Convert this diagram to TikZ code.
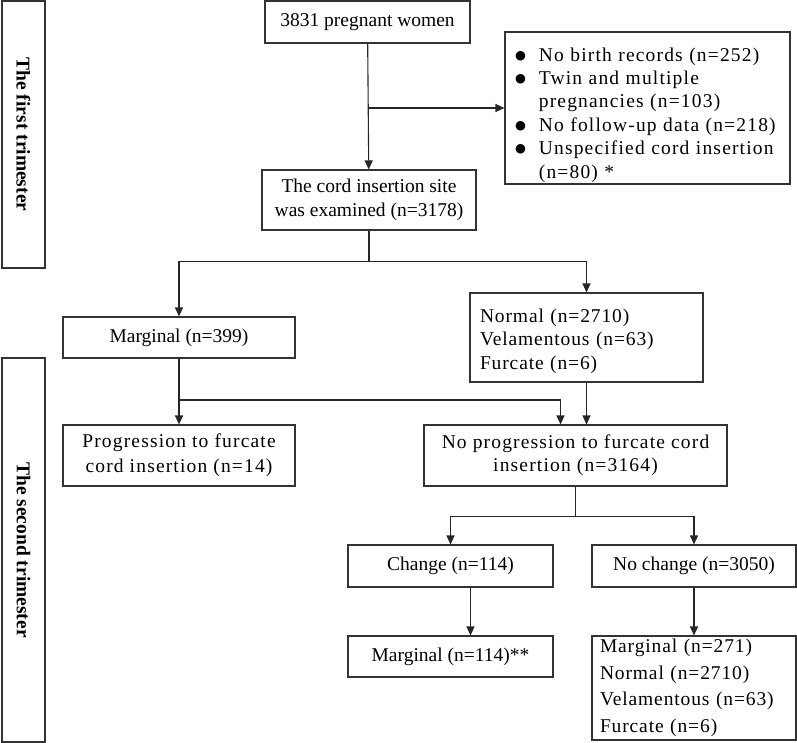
\documentclass[tikz,border=0pt]{standalone}
\usepackage{fontspec}
\setmainfont{Liberation Serif}
\newfontfamily\widefont[LetterSpace=6]{Liberation Serif}
\newfontfamily\semifont[LetterSpace=4.5]{Liberation Serif}
\newfontfamily\dotfont{DejaVu Sans}
\usetikzlibrary{arrows.meta}

\newcommand\dotmark{\raisebox{1.8pt}{\dotfont\fontsize{12.5}{14}\selectfont ●}}
\newcommand\lowered[2]{\raisebox{-#1}[\height][\depth]{#2}}

\tikzset{
    box/.style={draw=black!80, line width=1.1pt, inner sep=0pt, align=center,
        font=\fontsize{19.5}{23.4}\selectfont},
    side/.style={box, rotate=-90, font=\fontsize{19.5}{23.4}\selectfont\bfseries},
    wire/.style={draw=black!85, line width=1.1pt},
    link/.style={wire, -{Triangle[length=9pt,width=8pt]}},
}

\begin{document}
\begin{tikzpicture}[x=1pt, y=-1pt]
    \useasboundingbox (0,0) rectangle (797,743);

    % trimester bands
    \node[side, minimum width=267, minimum height=43] (first) at (23.5,134.5) {The first trimester};
    \node[side, minimum width=384, minimum height=43] (second) at (23.5,550) {The second trimester};

    \node[box, minimum width=205, minimum height=42] (women) at (367.5,22) {3831 pregnant women};
    \node[box, minimum width=285, minimum height=152, inner xsep=10pt, text width=265, align=left] (excl) at (647.5,108) {\widefont
        \lowered{7pt}{\begin{tabular}{@{}l@{\hspace{13pt}}l@{}}
        \dotmark & No birth records (n=252)\\
        \dotmark & Twin and multiple\\
                 & pregnancies (n=103)\\
        \dotmark & No follow-up data (n=218)\\
        \dotmark & Unspecified cord insertion\\
                 & (n=80) *
        \end{tabular}}};
    \node[box, minimum width=214, minimum height=60] (exam) at (369,200) {The cord insertion site\\was examined (n=3178)};

    \node[box, minimum width=232, minimum height=41] (marg) at (179,337.5) {Marginal (n=399)};
    \node[box, minimum width=233, minimum height=89, inner xsep=10pt, text width=213, align=left] (norm) at (586.5,337.5) {\semifont
        \lowered{3.5pt}{\begin{tabular}{@{}l@{}}Normal (n=2710)\\Velamentous (n=63)\\Furcate (n=6)\end{tabular}}};

    \node[box, minimum width=232, minimum height=61, font=\fontsize{19.5}{25}\widefont] (prog) at (179,455.5) {Progression to furcate\\cord insertion (n=14)};
    \node[box, minimum width=303, minimum height=61, font=\fontsize{19.5}{23.4}\widefont] (noprog) at (575.5,455.5) {No progression to furcate cord\\insertion (n=3164)};

    \node[box, minimum width=205, minimum height=42] (chg) at (450.5,566) {Change (n=114)};
    \node[box, minimum width=204, minimum height=42] (nochg) at (694,566) {No change (n=3050)};
    \node[box, minimum width=205, minimum height=41] (marg2) at (450.5,656.5) {Marginal (n=114)**};
    \node[box, minimum width=204, minimum height=104, inner xsep=8pt, text width=188, align=left,
        font=\fontsize{19.5}{26.5}\semifont] (final) at (694,688) {Marginal (n=271)\\Normal (n=2710)\\Velamentous (n=63)\\Furcate (n=6)};

    % connectors
    \draw[link] (women) -- (exam);
    \draw[link] (women.south |- excl.west) -- (excl.west);

    \draw[wire] (exam.south) -- ++(0,31) coordinate (fork1);
    \draw[link] (fork1) -| (marg.north);
    \draw[link] (fork1) -| (norm.north);

    \draw[link] (marg) -- (prog);
    \coordinate (fork2) at (179,400);
    \draw[link] (fork2) -| ([xshift=-15pt]noprog.north);
    \draw[link] (norm.south) -- (norm.south |- noprog.north);

    \draw[wire] (noprog.south) -- ++(0,30) coordinate (fork3);
    \draw[link] (fork3) -| (chg.north);
    \draw[link] (fork3) -| (nochg.north);

    \draw[link] ([xshift=20pt]chg.south) -- ([xshift=20pt]marg2.north);
    \draw[link] (nochg) -- (final);
\end{tikzpicture}
\end{document}
